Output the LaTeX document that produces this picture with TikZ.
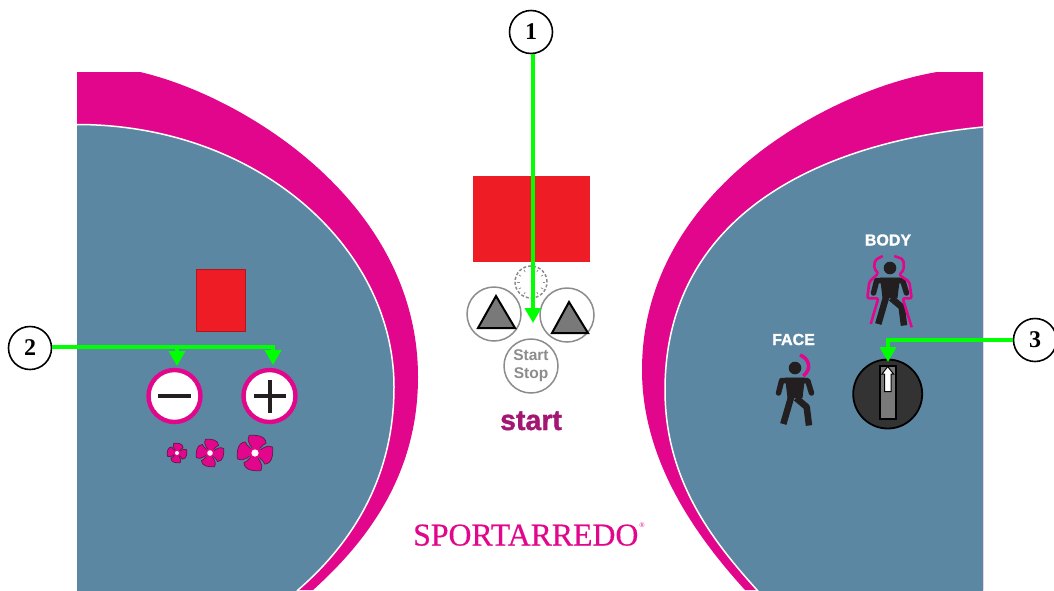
\documentclass[tikz,border=0pt]{standalone}
\usepackage{fontspec}
\setmainfont{Liberation Serif}
\newfontfamily\sansf{Liberation Sans}
\newfontfamily\sansheavy[FakeBold=1.2]{Liberation Sans Bold}
\newfontfamily\brandf[FakeBold=0.5]{Liberation Serif}
\usetikzlibrary{arrows.meta}
\definecolor{pinkc}{HTML}{E2068C}
\definecolor{bluec}{HTML}{5C87A2}
\definecolor{redc}{HTML}{EE1C25}
\definecolor{inkc}{HTML}{231F20}
\definecolor{greenc}{HTML}{00FF00}
\definecolor{grayc}{HTML}{8C8C8C}
\tikzset{
  pinkpanel/.style={fill=pinkc,draw=none},
  bluepanel/.style={fill=bluec,draw=white,line width=1.5pt},
  callout/.style={circle,draw=black,line width=1.6pt,fill=white,minimum size=43pt,inner sep=0pt,font=\bfseries\fontsize{24}{24}\selectfont},
  greenline/.style={draw=greenc,line width=4pt},
  greenarrow/.style={draw=greenc,line width=4pt,-{Triangle[length=15pt,width=16pt]}},
  grayring/.style={circle,draw=grayc,line width=1.5pt,fill=white,inner sep=0pt},
  tri/.style={fill=gray!95!black,draw=black,line width=2pt,line join=miter},
  btn/.style={circle,draw=pinkc,line width=4.4pt,fill=white,minimum size=52pt,inner sep=0pt},
  barline/.style={draw=inkc,line width=4pt},
  fanblade/.style={fill=pinkc,draw=inkc!65!pinkc,line width=.7pt,line join=round},
  limb/.style={draw=inkc,line width=5.5pt,line cap=round,line join=round},
  leg/.style={draw=inkc,line width=6.5pt,line cap=butt,line join=round},
  aura/.style={draw=pinkc,line width=2.6pt,line join=round,rounded corners=2pt},
  white label/.style={text=white,inner sep=0pt,font=\sansheavy\fontsize{16}{16}\selectfont},
}
\newcommand{\fanicon}[3]{\begin{scope}[shift={(#1,#2)},scale=#3]
  \foreach \a in {10,100,190,280}
    \draw[fanblade,rotate=\a] (0,0) .. controls (-0.05,-0.35) and (-0.42,-0.6) .. (-0.15,-1.02) .. controls (0.25,-0.98) and (0.75,-0.85) .. (0.7,-0.42) .. controls (0.5,-0.42) and (0.3,-0.15) .. (0,0) -- cycle;
  \fill[pinkc] (0,0) circle (0.35);
  \fill[white] (0,0) circle (0.2);
\end{scope}}
\newcommand{\personicon}[2]{\begin{scope}[shift={(#1,#2)}]
  \fill[inkc] (0,0) circle (6.3);
  \fill[inkc] (-10,9.5) -- (10,9.5) -- (7.5,30) -- (-7.5,30) -- cycle;
  \draw[limb] (-16.5,25) -- (-13.3,12.5) -- (12.7,12.5) -- (16.5,25);
  \draw[leg] (-3,26) -- (-11.7,56);
  \draw[leg] (1,30) -- (11.7,39) -- (14,57.5);
\end{scope}}
\begin{document}
\begin{tikzpicture}[x=1pt,y=-1pt]
\useasboundingbox (0,0) rectangle (1054,590);
\fill[white] (0,0) rectangle (1054,590);
% left panel
\fill[pinkpanel] (77,72) -- (140,72) .. controls (240,95) and (418,200) .. (418,377) .. controls (418,470) and (372,537) .. (313,590) -- (77,590) -- cycle;
\begin{scope}
\clip (77,0) rectangle (1054,590);
\filldraw[bluepanel] (70,600) -- (70,124.5) -- (77,124.5) .. controls (257,124.5) and (394,247) .. (394,387) .. controls (394,480) and (350,545) .. (298,590) -- (290,600) -- cycle;
\end{scope}
% right panel
\fill[pinkpanel] (983,72) -- (937,72) .. controls (830,90) and (642,190) .. (642,370) .. controls (642,460) and (695,535) .. (745,590) -- (983,590) -- cycle;
\begin{scope}
\clip (0,0) rectangle (983,590);
\filldraw[bluepanel] (990,600) -- (990,127) -- (983,127) .. controls (800,145) and (665,227) .. (665,390) .. controls (665,480) and (712,540) .. (757,590) -- (765,600) -- cycle;
\end{scope}
% displays
\node[fill=redc,draw=none,minimum width=117pt,minimum height=86pt,inner sep=0pt] (display) at (531,219) {};
\node[fill=redc,draw=redc!75!black,line width=.8pt,minimum width=49pt,minimum height=62pt,inner sep=0pt] (fandisplay) at (220.5,300) {};
% centre controls
\node[grayring,minimum size=32pt,densely dashed] (clock) at (531,282) {};
\foreach \a in {0,30,...,330}
  \draw[grayc,line width=.7pt] (clock.center) ++(\a:11.5) -- ++(\a:2.5);
\draw[grayc,line width=.7pt] (clock.center) -- ++(0,8);
\draw[grayc,line width=.7pt] (clock.center) -- ++(2,-9);
\node[grayring,minimum size=54pt] (leftring) at (494,314) {};
\node[grayring,minimum size=54pt] (rightring) at (567,315) {};
\node[grayring,minimum size=54pt,align=center,text=grayc,font=\sansf\bfseries\fontsize{15.5}{18}\selectfont] (startstop) at (531,366) {Start\\Stop};
\draw[tri] (496,296) -- (478,328) -- (515,328) -- cycle;
\draw[tri] (569,302) -- (552,333) -- (588,333) -- cycle;
\node[anchor=base,inner sep=0pt,text={rgb,255:red,163;green,22;blue,115},font=\sansheavy\fontsize{28.5}{29}\selectfont] (startlabel) at (531,430) {start};
\node[anchor=base west,inner sep=0pt,text=pinkc,font=\brandf\fontsize{31.8}{32}\selectfont] (brand) at (413,545.5) {SPORTARREDO};
\node[inner sep=0pt,text=pinkc,font=\fontsize{7}{7}\selectfont] (brandmark) at (642,525) {®};
% left controls
\node[btn] (minusbtn) at (174.5,396) {};
\node[btn] (plusbtn) at (269.5,396) {};
\draw[barline] (158,396) -- (191,396);
\draw[barline] (254,396) -- (286,396);
\draw[barline] (270,380) -- (270,413);
\fanicon{177}{453}{10}
\fanicon{210}{453}{14}
\fanicon{255}{453}{18}
% right controls
\node[white label] (bodylabel) at (888,240) {BODY};
\node[white label] (facelabel) at (793.5,339.5) {FACE};
\personicon{890}{268}
\personicon{795}{368}
\draw[aura] (882.7,256) -- (875,260) -- (874,268.3) -- (878.3,273.3) -- (869.3,281.7) -- (867.3,298.3) -- (878.3,298.3) -- (870.7,324);
\draw[aura] (894.3,256) -- (903.3,259.3) -- (904,269.3) -- (899.3,275) -- (909.3,281.7) -- (911.7,298.3) -- (902.7,298.3) -- (911.7,327.3);
\draw[pinkc,line width=3.5pt] (800,355) .. controls (808,358) and (813,368) .. (803.3,376);
\node[circle,fill=black!80,draw=black,line width=1.8pt,minimum size=69pt,inner sep=0pt] (knob) at (887.7,394) {};
\node[fill=gray!95!black,draw=black,line width=1.5pt,minimum width=16pt,minimum height=53pt,inner sep=0pt] (slot) at (888,392.5) {};
\filldraw[fill=white,draw=black,line width=1pt] (887.7,366.5) -- (893.5,374) -- (891,374) -- (891,391.5) -- (884.5,391.5) -- (884.5,374) -- (882,374) -- cycle;
% callouts
\node[callout] (c1) at (531,32) {1};
\node[callout] (c2) at (30,348) {2};
\node[callout] (c3) at (1035,340) {3};
\coordinate (t1) at (533,323);
\coordinate (t2a) at (177,366);
\coordinate (t2b) at (273,365);
\coordinate (t3) at (888,362);
\coordinate (j2a) at (177,347);
\coordinate (j2b) at (273,347);
\draw[greenarrow] (t1 |- c1.south) -- (t1);
\draw[greenarrow] (c2.east |- j2a) -- (j2b) -- (t2b);
\draw[greenarrow] (j2a) -- (t2a);
\draw[greenarrow] (c3.west) -- (t3 |- c3.west) -- (t3);
\end{tikzpicture}
\end{document}
